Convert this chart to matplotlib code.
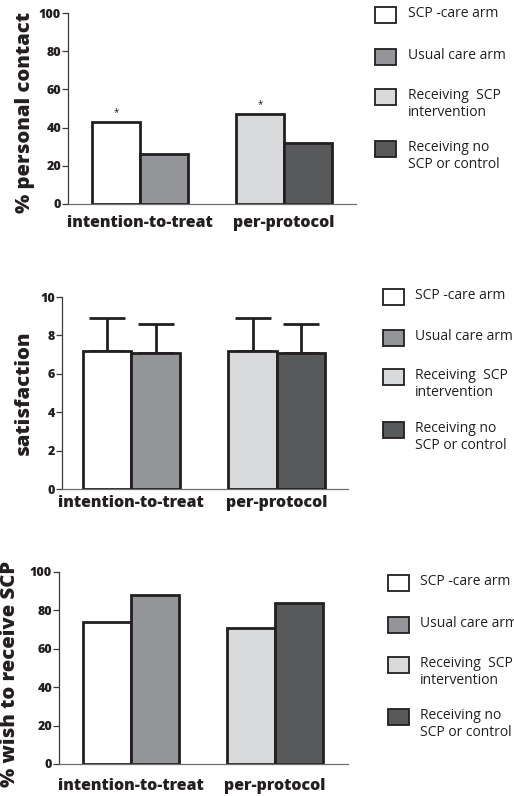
import matplotlib
matplotlib.use("Agg")
from matplotlib import pyplot as plt
from matplotlib.patches import Rectangle

plt.rcParams['font.family'] = ['Open Sans', 'DejaVu Sans']

groups = ['intention-to-treat', 'per-protocol']
series = ['SCP -care arm', 'Usual care arm', 'Receiving  SCP\nintervention', 'Receiving no\nSCP or control']
colors = ['#ffffff', '#939598', '#d9dadb', '#58595b']
edge = '#231f20'

contact = [43, 26, 47, 32]
contact_star = [True, False, True, False]
satisfaction = [7.2, 7.1, 7.2, 7.1]
satisfaction_err = [1.7, 1.5, 1.7, 1.5]
wish = [74, 88, 71, 84]

W, H = 514, 796
fig = plt.figure(figsize=(W / 100, H / 100), dpi=100)

xpos = [0, 1, 3, 4]


def px_axes(left, top, right, bottom):
    return fig.add_axes([left / W, 1 - bottom / H, (right - left) / W, (bottom - top) / H])


def style(ax, ymax, step, xlim, label, label_size, label_x, label_y, label_pad):
    ax.set_ylim(0, ymax)
    ax.set_xlim(*xlim)
    ticks = list(range(0, ymax + 1, step))
    ax.set_yticks(ticks)
    ax.set_yticklabels([str(t) for t in ticks], fontsize=9, fontweight='heavy', color='#231f20')
    ax.spines['top'].set_visible(False)
    ax.spines['right'].set_visible(False)
    ax.spines['left'].set_color('#3a3a3a')
    ax.spines['bottom'].set_color('#6d6e71')
    ax.spines['left'].set_linewidth(0.9)
    ax.spines['bottom'].set_linewidth(0.9)
    ax.tick_params(axis='y', length=4.5, width=0.9, color='#3a3a3a', pad=0.5)
    ax.set_xticks([0.5, 3.5])
    ax.set_xticklabels(groups, fontsize=11.5, fontweight='heavy', color='#231f20')
    ax.tick_params(axis='x', length=0, pad=label_pad)
    ax.set_ylabel(label, fontsize=label_size, fontweight='heavy', color='#231f20')
    ax.yaxis.set_label_coords(label_x, label_y)


def draw_legend(box_left, centers, text_left):
    for lab, c, cy in zip(series, colors, centers):
        fig.patches.append(Rectangle((box_left / W, 1 - (cy + 8) / H), 21 / W, 16 / H,
                                     transform=fig.transFigure, facecolor=c,
                                     edgecolor=edge, linewidth=1.3))
        fig.text(text_left / W, 1 - (cy - 9) / H, lab, fontsize=10, va='top', ha='left',
                 color='#231f20', linespacing=1.2)


# panel 1: personal contact
ax1 = px_axes(68, 13, 356, 204)
ax1.bar(xpos, contact, width=1, color=colors, edgecolor=edge, linewidth=2)
for x, v, s in zip(xpos, contact, contact_star):
    if s:
        ax1.annotate('*', (x, v), xytext=(0, 3), textcoords='offset points',
                     ha='center', va='bottom', fontsize=7, color='#231f20')
style(ax1, 100, 20, (-1, 5), '% personal contact', 14.6, -0.113, 0.48, 8)
draw_legend(375, [15, 57, 97, 149], 408)

# panel 2: satisfaction
ax2 = px_axes(62, 297, 348, 489)
ax2.bar(xpos, satisfaction, width=1, color=colors, edgecolor=edge, linewidth=2, zorder=3)
ax2.errorbar(xpos, satisfaction, yerr=[[0] * 4, satisfaction_err], fmt='none',
             ecolor=edge, elinewidth=2, capsize=13, capthick=2, zorder=2)
style(ax2, 10, 2, (-0.93, 4.97), 'satisfaction', 14.6, -0.1, 0.5, 4)
draw_legend(383, [297, 338, 377, 430], 415)

# panel 3: wish to receive SCP
ax3 = px_axes(59, 572, 348, 764)
ax3.bar(xpos, wish, width=1, color=colors, edgecolor=edge, linewidth=2)
style(ax3, 100, 20, (-1, 5.02), '% wish to receive SCP', 14.6, -0.135, 0.47, 10)
draw_legend(388, [583, 625, 665, 717], 420)

fig.savefig('out.png', dpi=100)
